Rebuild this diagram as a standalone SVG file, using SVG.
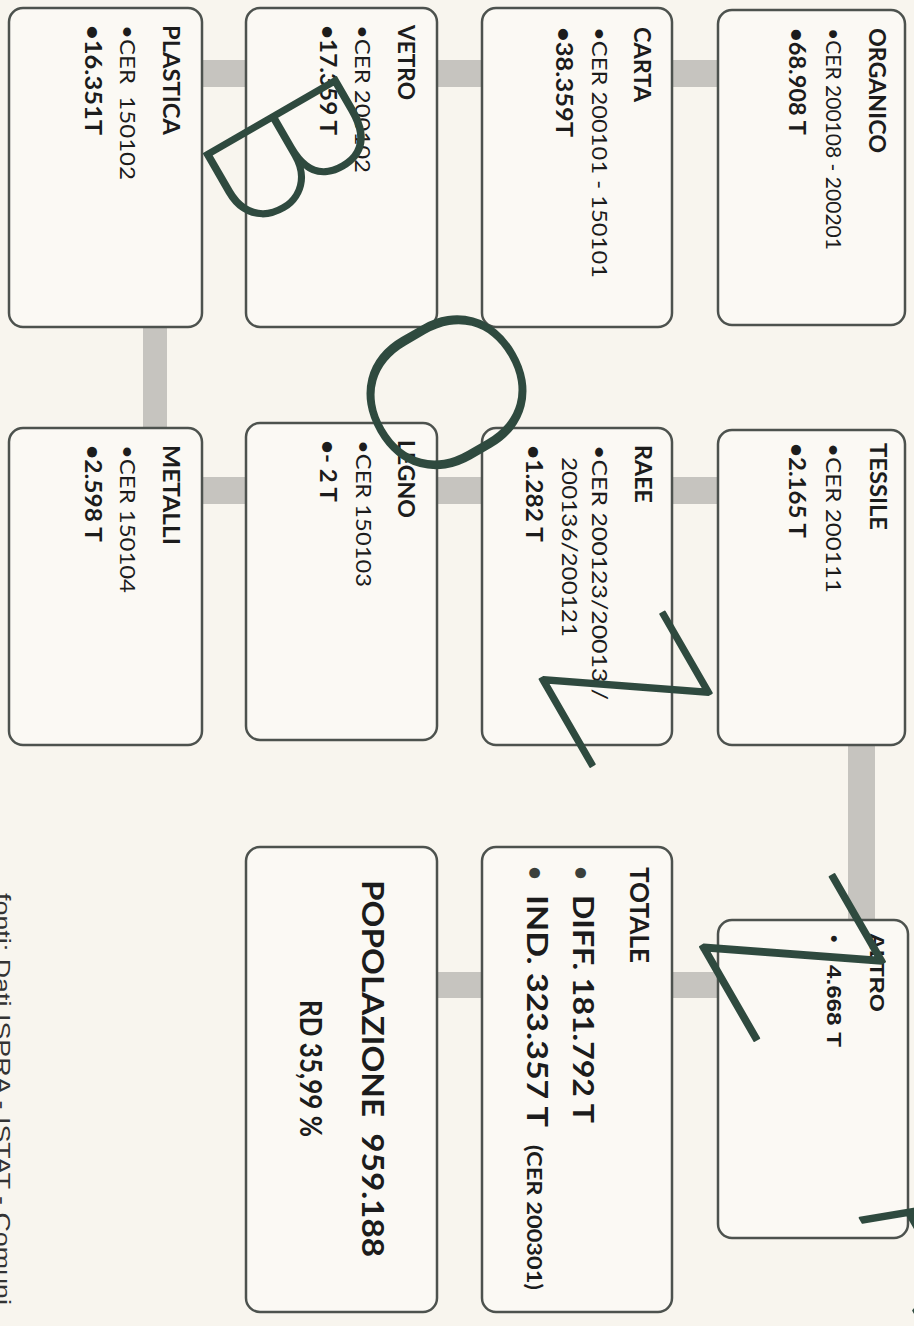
<svg xmlns="http://www.w3.org/2000/svg" width="914" height="1326" viewBox="0 0 914 1326">
<style>
.bg{fill:#f8f5ee}
.box{fill:#fbf9f4;stroke:#4d524e;stroke-width:2.5}
.bar{fill:#c6c4bf}
.t{font-family:Lato,"Liberation Sans",sans-serif;font-size:21.5px;fill:#1c1c1c}
.h{font-family:Lato,"Liberation Sans",sans-serif;font-size:22px;font-weight:bold;fill:#1c1c1c}
.ta{font-family:"Liberation Sans",Arial,sans-serif;font-size:21px;fill:#1c1c1c}
.ha{font-family:"Liberation Sans",Arial,sans-serif;font-size:21px;font-weight:bold;fill:#1c1c1c}
.big{font-family:Lato,"Liberation Sans",sans-serif;font-size:29px;font-weight:bold;fill:#1c1c1c}
.small{font-family:Lato,"Liberation Sans",sans-serif;font-size:21px;font-weight:bold;fill:#1c1c1c}
.foot{font-family:"Liberation Sans",Arial,sans-serif;font-size:22px;fill:#333}
.hw{font-family:Roboto,Inter,"DejaVu Sans",sans-serif;font-weight:100;fill:#2f4a3f;stroke:#2f4a3f;stroke-width:2;stroke-linejoin:round}
</style>
<rect class="bg" x="0" y="0" width="914" height="1326"/>

<g id="connectors">
  <rect class="bar" x="672" y="60" width="46" height="27"/>
  <rect class="bar" x="437" y="60" width="45" height="27"/>
  <rect class="bar" x="202" y="60" width="44" height="27"/>
  <rect class="bar" x="143" y="327" width="24" height="101"/>
  <rect class="bar" x="202" y="477" width="44" height="27"/>
  <rect class="bar" x="437" y="477" width="45" height="27"/>
  <rect class="bar" x="672" y="477" width="46" height="27"/>
  <rect class="bar" x="848" y="745" width="27" height="175"/>
  <rect class="bar" x="672" y="972" width="46" height="26"/>
  <rect class="bar" x="437" y="972" width="45" height="26"/>
</g>

<g id="organico">
  <rect class="box" x="718" y="10" width="187" height="315" rx="14"/>
  <text class="h" transform="translate(869,0) rotate(90)" x="28" textLength="125" lengthAdjust="spacingAndGlyphs">ORGANICO</text>
  <text class="t" transform="translate(826,0) rotate(90)" x="28" textLength="222" lengthAdjust="spacingAndGlyphs">•CER 200108 - 200201</text>
  <text class="h" transform="translate(789,0) rotate(90)" x="28" textLength="107" lengthAdjust="spacingAndGlyphs">•68.908 T</text>
</g>

<g id="carta">
  <rect class="box" x="482" y="8" width="190" height="319" rx="14"/>
  <text class="h" transform="translate(634,0) rotate(90)" x="27" textLength="75" lengthAdjust="spacingAndGlyphs">CARTA</text>
  <text class="t" transform="translate(592,0) rotate(90)" x="27" textLength="251" lengthAdjust="spacingAndGlyphs">•CER 200101 - 150101</text>
  <text class="h" transform="translate(556,0) rotate(90)" x="27" textLength="110" lengthAdjust="spacingAndGlyphs">•38.359T</text>
</g>

<g id="vetro">
  <rect class="box" x="246" y="8" width="191" height="319" rx="14"/>
  <text class="h" transform="translate(398,0) rotate(90)" x="25" textLength="75" lengthAdjust="spacingAndGlyphs">VETRO</text>
  <text class="t" transform="translate(355,0) rotate(90)" x="25" textLength="148" lengthAdjust="spacingAndGlyphs">•CER 200102</text>
  <text class="h" transform="translate(320,0) rotate(90)" x="25" textLength="110" lengthAdjust="spacingAndGlyphs">•17.359 T</text>
</g>

<g id="plastica">
  <rect class="box" x="9" y="8" width="193" height="319" rx="14"/>
  <text class="h" transform="translate(163,0) rotate(90)" x="25" textLength="110" lengthAdjust="spacingAndGlyphs">PLASTICA</text>
  <text class="t" transform="translate(120,0) rotate(90)" x="25" textLength="155" lengthAdjust="spacingAndGlyphs">•CER&#160; 150102</text>
  <text class="h" transform="translate(85,0) rotate(90)" x="25" textLength="110" lengthAdjust="spacingAndGlyphs">•16.351T</text>
</g>

<g id="tessile">
  <rect class="box" x="718" y="430" width="187" height="315" rx="14"/>
  <text class="h" transform="translate(870,0) rotate(90)" x="443" textLength="87" lengthAdjust="spacingAndGlyphs">TESSILE</text>
  <text class="t" transform="translate(826,0) rotate(90)" x="443" textLength="150" lengthAdjust="spacingAndGlyphs">•CER 200111</text>
  <text class="h" transform="translate(789,0) rotate(90)" x="443" textLength="95" lengthAdjust="spacingAndGlyphs">•2.165 T</text>
</g>

<g id="raee">
  <rect class="box" x="482" y="428" width="190" height="317" rx="14"/>
  <text class="h" transform="translate(635,0) rotate(90)" x="445" textLength="58" lengthAdjust="spacingAndGlyphs">RAEE</text>
  <text class="t" transform="translate(592,0) rotate(90)" x="445" textLength="255" lengthAdjust="spacingAndGlyphs">•CER 200123/20013 /</text>
  <text class="t" transform="translate(562,0) rotate(90)" x="457" textLength="180" lengthAdjust="spacingAndGlyphs">200136/200121</text>
  <text class="h" transform="translate(526,0) rotate(90)" x="445" textLength="97" lengthAdjust="spacingAndGlyphs">•1.282 T</text>
</g>

<g id="legno">
  <rect class="box" x="246" y="423" width="191" height="317" rx="14"/>
  <text class="h" transform="translate(398,0) rotate(90)" x="440" textLength="78" lengthAdjust="spacingAndGlyphs">LEGNO</text>
  <text class="t" transform="translate(356,0) rotate(90)" x="440" textLength="147" lengthAdjust="spacingAndGlyphs">•CER 150103</text>
  <text class="h" transform="translate(320,0) rotate(90)" x="440" textLength="62" lengthAdjust="spacingAndGlyphs">•- 2 T</text>
</g>

<g id="metalli">
  <rect class="box" x="9" y="428" width="193" height="317" rx="14"/>
  <text class="h" transform="translate(163,0) rotate(90)" x="445" textLength="100" lengthAdjust="spacingAndGlyphs">METALLI</text>
  <text class="t" transform="translate(120,0) rotate(90)" x="445" textLength="148" lengthAdjust="spacingAndGlyphs">•CER 150104</text>
  <text class="h" transform="translate(85,0) rotate(90)" x="445" textLength="97" lengthAdjust="spacingAndGlyphs">•2.598 T</text>
</g>

<g id="altro">
  <rect class="box" x="718" y="920" width="190" height="318" rx="14"/>
  <text class="ha" transform="translate(870,0) rotate(90)" x="933" textLength="79" lengthAdjust="spacingAndGlyphs">ALTRO</text>
  <text class="ha" transform="translate(827,0) rotate(90)"><tspan x="935">•</tspan><tspan x="965" textLength="82" lengthAdjust="spacingAndGlyphs">4.668 T</tspan></text>
</g>

<g id="totale">
  <rect class="box" x="482" y="847" width="190" height="465" rx="14"/>
  <text class="big" transform="translate(630,0) rotate(90)" x="867" style="font-size:27px" textLength="96" lengthAdjust="spacingAndGlyphs">TOTALE</text>
  <text class="big" transform="translate(573,0) rotate(90)"><tspan x="866" style="font-size:24px;fill:#3a3f3b">•</tspan><tspan x="895" textLength="228" lengthAdjust="spacingAndGlyphs">DIFF. 181.792 T</tspan></text>
  <text class="big" transform="translate(527,0) rotate(90)"><tspan x="866" style="font-size:24px;fill:#3a3f3b">•</tspan><tspan x="895" textLength="232" lengthAdjust="spacingAndGlyphs">IND. 323.357 T</tspan><tspan class="small" x="1145" textLength="145" lengthAdjust="spacingAndGlyphs">(CER 200301)</tspan></text>
</g>

<g id="popolazione">
  <rect class="box" x="246" y="847" width="191" height="465" rx="14"/>
  <text class="big" transform="translate(362,0) rotate(90)" x="880" style="font-size:31px" textLength="377" lengthAdjust="spacingAndGlyphs">POPOLAZIONE&#160; 959.188</text>
  <text class="big" transform="translate(300,0) rotate(90)" x="1000" style="font-size:31px" textLength="137" lengthAdjust="spacingAndGlyphs">RD 35,99 %</text>
</g>

<g id="footnote">
  <text class="foot" transform="translate(-5,0) rotate(90)" x="893" textLength="412" lengthAdjust="spacingAndGlyphs">fonti: Dati ISPRA - ISTAT - Comuni</text>
</g>

<g id="handwriting">
  <text class="hw" transform="translate(203,152) rotate(60) scale(0.92,1)" x="-19" style="font-size:215px">B</text>
  <text class="hw" transform="translate(447,392) rotate(60) scale(1.2,1)" x="0" y="77" text-anchor="middle" style="font-size:215px">O</text>
  <text class="hw" transform="translate(540,680) rotate(60)" x="-10" style="font-size:200px">Z</text>
  <text class="hw" transform="translate(700,947) rotate(60)" x="-10" style="font-size:215px">Z</text>
  <text class="hw" transform="translate(858,1215) rotate(60)" x="0" style="font-size:200px">A</text>
</g>
</svg>
